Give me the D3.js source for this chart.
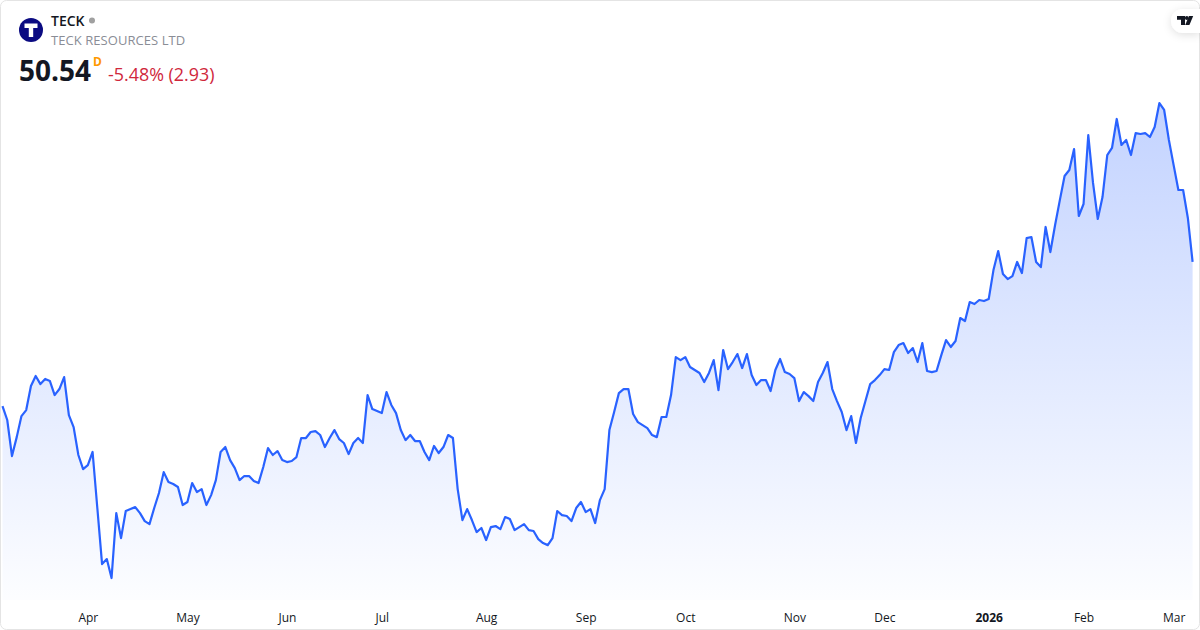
<!DOCTYPE html>
<html><head><meta charset="utf-8">
<script src="https://cdn.jsdelivr.net/npm/d3@7/dist/d3.min.js"></script>
<style>html,body{margin:0;padding:0;background:#fff}svg{display:block}text{font-family:"Open Sans","Noto Sans",sans-serif}</style>
</head><body><svg id="c" width="1200" height="630"></svg>
<script>
const symbol = "TECK";
const companyName = "TECK RESOURCES LTD";
const lastPrice = "50.54";
const intervalLabel = "D";
const changeLabel = "-5.48% (2.93)";
const tickLabels = ["Apr","May","Jun","Jul","Aug","Sep","Oct","Nov","Dec","2026","Feb","Mar"];
const tickSessions = [18,39,60,80,102,123,144,167,186,208,228,247];
const closes = [
40.95,40.02,37.62,38.88,40.28,40.68,42.28,42.95,42.41,42.75,42.61,41.68,42.08,42.88,40.35,39.55,37.69,36.75,37.02,37.89,
34.16,30.43,30.76,29.50,33.82,32.16,33.96,34.09,34.22,33.82,33.29,33.09,34.16,35.16,36.55,35.89,35.76,35.56,34.36,34.56,
35.82,35.22,35.42,34.36,35.02,36.02,37.89,38.22,37.35,36.82,36.02,36.29,36.29,35.96,35.82,36.89,38.15,37.69,37.95,37.35,
37.22,37.29,37.55,
38.82,38.82,39.22,39.28,39.02,38.22,38.82,39.35,38.75,38.49,37.75,38.49,38.82,38.49,41.68,40.75,40.62,40.48,41.88,41.02,
40.48,39.35,38.68,39.02,38.62,38.62,37.89,37.35,38.29,37.82,38.22,39.02,38.82,35.42,33.36,34.09,33.36,32.56,32.83,32.03,
32.89,32.96,32.76,33.56,33.43,32.69,32.89,33.09,32.69,32.63,32.09,31.83,31.69,32.16,33.96,33.69,33.63,33.29,34.16,34.56,
33.89,34.09,33.16,
34.69,35.42,39.35,40.55,41.81,42.08,42.08,40.42,39.88,39.68,39.48,39.02,38.88,40.22,40.22,41.68,44.21,44.01,44.21,43.55,
43.35,43.15,42.55,43.15,44.01,42.01,44.68,43.41,43.88,44.41,43.48,44.41,43.01,42.35,42.68,42.68,41.95,43.35,44.08,43.21,
43.08,42.81,41.28,41.88,41.61,41.28,42.55,43.15,43.88,42.08,41.28,40.55,39.35,40.28,38.49,40.15,41.28,42.41,42.68,43.01,
43.41,43.35,
44.54,45.01,45.14,44.48,44.81,43.88,45.14,43.28,43.21,43.28,44.34,45.34,44.88,45.28,46.81,46.61,47.87,47.74,48.01,47.94,
48.07,50.00,51.27,49.74,49.40,49.60,50.54,49.80,52.13,52.20,50.54,50.20,52.87,51.20,53.00,54.66,56.26,56.66,58.06,53.60,
54.40,58.99,55.80,53.40,54.86,57.66,58.13,60.06,58.33,58.66,57.66,59.12,59.06,59.12,58.86,59.52,61.12,60.66,58.66,56.99,
55.33,55.33,53.47,50.54
];

const W = 1200, H = 630;
const svg = d3.select("#c");
const defs = svg.append("defs");
const grad = defs.append("linearGradient").attr("id","fill").attr("gradientUnits","userSpaceOnUse")
  .attr("x1",0).attr("x2",0).attr("y1",103).attr("y2",600);
grad.append("stop").attr("offset",0).attr("stop-color","#2962FF").attr("stop-opacity",0.28);
grad.append("stop").attr("offset",1).attr("stop-color","#2962FF").attr("stop-opacity",0.012);
const sh = defs.append("filter").attr("id","sh").attr("x","-40%").attr("y","-40%").attr("width","180%").attr("height","180%");
sh.append("feDropShadow").attr("dx",0).attr("dy",2).attr("stdDeviation",4).attr("flood-color","#000").attr("flood-opacity",0.12);

const x = d3.scaleLinear().domain([0, closes.length-1]).range([2.5,1192.6]);
const y = d3.scaleLinear().domain([26.04,67.98]).range([630,0]);

svg.append("rect").attr("width",W).attr("height",H).attr("fill","#fff");

svg.append("path").datum(closes).attr("fill","url(#fill)")
  .attr("d", d3.area().x((d,i)=>x(i)).y0(600).y1(d=>y(d)));
svg.append("path").datum(closes).attr("fill","none").attr("stroke","#2962FF").attr("stroke-width",2.2)
  .attr("stroke-linejoin","round").attr("stroke-linecap","butt")
  .attr("d", d3.line().x((d,i)=>x(i)).y(d=>y(d)));

const axis = d3.axisBottom(x).tickValues(tickSessions).tickSize(0).tickPadding(0)
  .tickFormat(d=>tickLabels[tickSessions.indexOf(d)]);
const gx = svg.append("g").attr("transform","translate(0,613)").call(axis);
gx.select(".domain").remove();
gx.selectAll("text").attr("font-family",'"Open Sans",sans-serif').attr("font-size",12).attr("fill","#131722")
  .attr("font-weight",d=>tickLabels[tickSessions.indexOf(d)]==="2026"?700:400);

// card border
svg.append("rect").attr("x",0.5).attr("y",0.5).attr("width",W-1).attr("height",H-1).attr("rx",6)
  .attr("fill","none").attr("stroke","#e4e4e4");

// header
const logo = svg.append("g");
logo.append("circle").attr("cx",31).attr("cy",30).attr("r",12).attr("fill","#0b0b82");
logo.append("path").attr("fill","#fff").attr("d","M24.5 23.5H37.5V28H33.2V37H28.8V28H24.5Z");
svg.append("text").attr("x",51).attr("y",26).attr("font-size",14).attr("font-weight",600).attr("fill","#131722").text(symbol);
svg.append("circle").attr("cx",92).attr("cy",20.5).attr("r",3).attr("fill","#a0a0a0");
svg.append("text").attr("x",51).attr("y",45).attr("font-size",13).attr("letter-spacing",0.06).attr("fill","#8a8d96").text(companyName);
svg.append("text").attr("x",19).attr("y",81).attr("font-size",28).attr("font-weight",700).attr("fill","#131722").text(lastPrice);
svg.append("text").attr("x",93).attr("y",66).attr("font-size",12).attr("font-weight",700).attr("fill","#ff9800").text(intervalLabel);
svg.append("text").attr("x",108).attr("y",81).attr("font-size",17.9).attr("fill","#d0273c").text(changeLabel);

// badge
const b = svg.append("g");
b.append("path").attr("fill","#fff").attr("filter","url(#sh)")
 .attr("d","M1200 9H1183A12 12 0 0 0 1171 21A12 12 0 0 0 1183 33H1200Z");
b.append("path").attr("fill","#131722").attr("d","M1177 16H1185V25H1181V19.8H1177Z");
b.append("circle").attr("cx",1186.8).attr("cy",18).attr("r",1.9).attr("fill","#131722");
b.append("path").attr("fill","#131722").attr("d","M1189 16H1193.2L1189.4 25H1185.2Z");
</script></body></html>
